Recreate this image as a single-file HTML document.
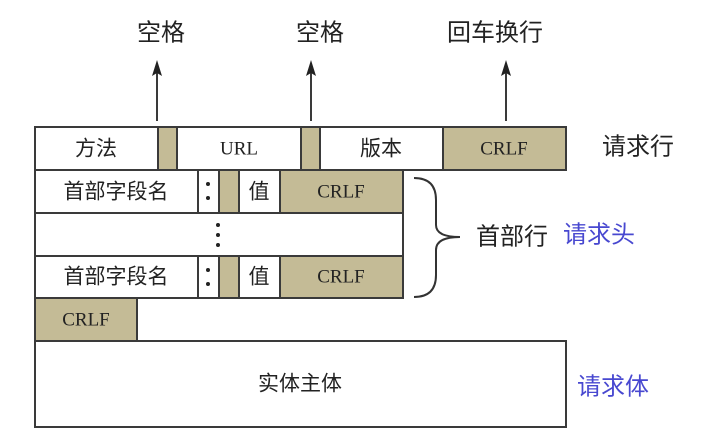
<!DOCTYPE html>
<html><head><meta charset="utf-8"><style>
html,body{margin:0;padding:0;background:#fff;width:716px;height:446px;overflow:hidden}
svg{display:block}
text{font-family:"Liberation Sans","Noto Sans CJK SC",sans-serif;font-size:24px;fill:#222;dominant-baseline:central;text-anchor:middle}
.m{font-family:"Liberation Serif","Noto Sans CJK SC",serif;font-size:19px}
.c{font-size:21px}
.b{fill:#4848d0}
</style></head><body>
<svg width="716" height="446" viewBox="0 0 716 446" xmlns="http://www.w3.org/2000/svg">
<g stroke="#3a3a3a" stroke-width="2">
<rect x="35" y="127" width="531" height="43" fill="#fff"/>
<rect x="158" y="127" width="19" height="43" fill="#c4bb96"/>
<rect x="301" y="127" width="19" height="43" fill="#c4bb96"/>
<rect x="443" y="127" width="123" height="43" fill="#c4bb96"/>
<rect x="35" y="170" width="368" height="43" fill="#fff"/>
<line x1="198" y1="170" x2="198" y2="213"/>
<rect x="219" y="170" width="20" height="43" fill="#c4bb96"/>
<rect x="280" y="170" width="123" height="43" fill="#c4bb96"/>
<rect x="35" y="213" width="368" height="43" fill="#fff"/>
<rect x="35" y="256" width="368" height="42" fill="#fff"/>
<line x1="198" y1="256" x2="198" y2="298"/>
<rect x="219" y="256" width="20" height="42" fill="#c4bb96"/>
<rect x="280" y="256" width="123" height="42" fill="#c4bb96"/>
<rect x="35" y="298" width="102" height="43" fill="#c4bb96"/>
<rect x="35" y="341" width="531" height="86" fill="#fff"/>
<line x1="157" y1="72" x2="157" y2="121"/>
<line x1="311" y1="72" x2="311" y2="121"/>
<line x1="506" y1="72" x2="506" y2="121"/>
</g>
<g fill="#222">
<polygon points="157,60 152,76 157,73 162,76"/>
<polygon points="311,60 306,76 311,73 316,76"/>
<polygon points="506,60 501,76 506,73 511,76"/>
<circle cx="208" cy="184" r="2"/><circle cx="208" cy="198" r="2"/>
<circle cx="208" cy="270" r="2"/><circle cx="208" cy="284" r="2"/>
<circle cx="218" cy="225" r="2"/><circle cx="218" cy="235" r="2"/><circle cx="218" cy="245" r="2"/>
</g>
<path d="M414,178 Q436,178 436,200 L436,225 Q436,237 460,237 Q436,237 436,250 L436,275 Q436,297 414,297" fill="none" stroke="#333" stroke-width="2"/>
<text x="161" y="33">空格</text>
<text x="320" y="33">空格</text>
<text x="495" y="33">回车换行</text>
<text class="c" x="96" y="149">方法</text>
<text class="m" x="239" y="149">URL</text>
<text class="c" x="381" y="149">版本</text>
<text class="m" x="504" y="149">CRLF</text>
<text x="638" y="147">请求行</text>
<text class="c" x="116" y="192">首部字段名</text>
<text class="c" x="259" y="192">值</text>
<text class="m" x="341" y="192">CRLF</text>
<text class="c" x="116" y="277">首部字段名</text>
<text class="c" x="259" y="277">值</text>
<text class="m" x="341" y="277">CRLF</text>
<text class="m" x="86" y="320">CRLF</text>
<text class="c" x="300" y="384">实体主体</text>
<text x="512" y="237">首部行</text>
<text class="b" x="599" y="235">请求头</text>
<text class="b" x="613" y="387">请求体</text>
</svg>
</body></html>
